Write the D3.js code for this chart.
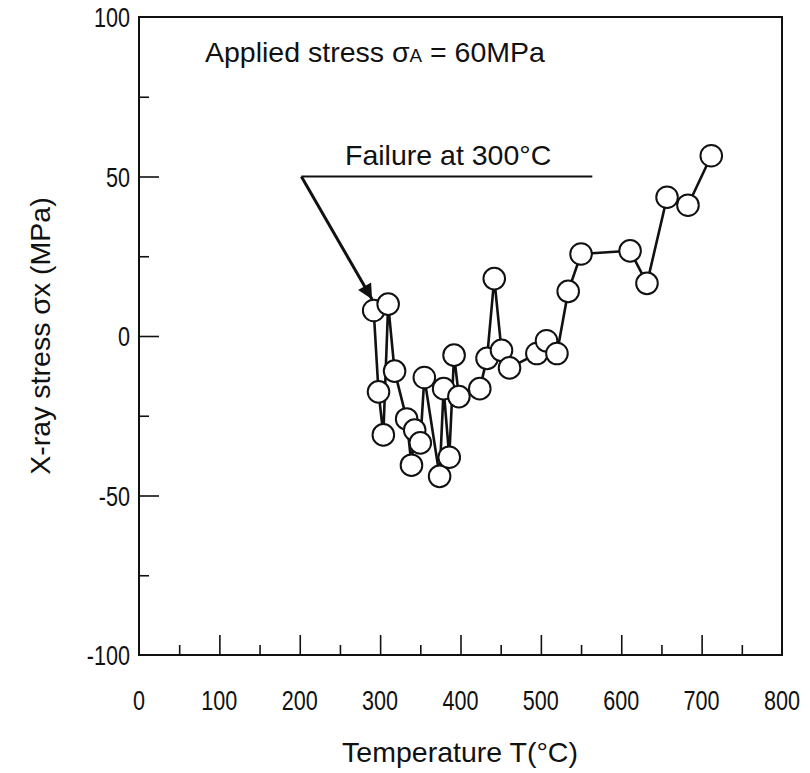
<!DOCTYPE html>
<html>
<head>
<meta charset="utf-8">
<script src="https://cdn.jsdelivr.net/npm/d3@7"></script>
<style>
  html, body { margin: 0; padding: 0; background: #fff; }
  svg { display: block; }
  text { font-family: "Liberation Sans", Arial, Helvetica, sans-serif; fill: #111; }
</style>
</head>
<body>
<svg id="chart" width="810" height="773"></svg>
<script>
// ---- data ----
const temperature = [292, 298, 304, 310, 318, 333, 339, 343, 350, 355, 374, 379, 386, 392, 398,
                     424, 433, 442, 451, 461, 495, 507, 520, 534, 550, 611, 632, 657, 683, 712];
const stress      = [8, -17.5, -31, 10, -11, -26, -40.5, -29.5, -33.5, -13, -44, -16.5, -38, -6, -19,
                     -16.5, -7, 18, -4.5, -10, -5.5, -1.5, -5.5, 14, 25.7, 26.7, 16.5, 43.5, 41, 56.5];
const xTickValues = [0, 100, 200, 300, 400, 500, 600, 700, 800];
const xMinorTicks = [50, 150, 250, 350, 450, 550, 650, 750];
const yTickValues = [-100, -50, 0, 50, 100];
const yMinorTicks = [-75, -25, 25, 75];
const xTitle = "Temperature T(°C)";
const yTitle = "X-ray stress σx (MPa)";
const appliedText = "Applied stress σ";
const failureText = "Failure at 300°C";

// ---- layout ----
const svg = d3.select("#chart");
const L = 139, R = 782, T = 17, B = 655;
const x = d3.scaleLinear().domain([0, 800]).range([L, R]);
const y = d3.scaleLinear().domain([-100, 100]).range([B, T]);
const fsTick = 27, sx = 0.8, fs = 28.5;

// frame
svg.append("rect").attr("x", L).attr("y", T).attr("width", R - L).attr("height", B - T)
  .attr("fill", "none").attr("stroke", "#111").attr("stroke-width", 2);

// bottom axis (ticks inward)
const gx = svg.append("g").attr("transform", `translate(0,${B})`)
  .call(d3.axisBottom(x).tickValues(xTickValues.slice(1, -1)).tickSize(-20).tickFormat(""));
const gxm = svg.append("g").attr("transform", `translate(0,${B})`)
  .call(d3.axisBottom(x).tickValues(xMinorTicks).tickSize(-10).tickFormat(""));
// left axis
const gy = svg.append("g").attr("transform", `translate(${L},0)`)
  .call(d3.axisLeft(y).tickValues(yTickValues.slice(1, -1)).tickSize(-20).tickFormat(""));
const gym = svg.append("g").attr("transform", `translate(${L},0)`)
  .call(d3.axisLeft(y).tickValues(yMinorTicks).tickSize(-10).tickFormat(""));
[gx, gxm, gy, gym].forEach(g => {
  g.select(".domain").remove();
  g.selectAll(".tick line").attr("stroke", "#111").attr("stroke-width", 1.6);
});

// tick labels (tall, narrow digits)
svg.append("g").selectAll("text").data(xTickValues).join("text")
  .attr("transform", d => `translate(${x(d)},710) scale(${sx},1)`)
  .attr("text-anchor", "middle").attr("font-size", fsTick).text(d => d);
svg.append("g").selectAll("text").data(yTickValues).join("text")
  .attr("transform", d => `translate(130,${y(d) + 10}) scale(${sx},1)`)
  .attr("text-anchor", "end").attr("font-size", fsTick).text(d => d);

// axis titles
svg.append("text").attr("x", 460).attr("y", 762).attr("text-anchor", "middle")
  .attr("font-size", fs).text(xTitle);
svg.append("text").attr("transform", `translate(50,${(T + B) / 2}) rotate(-90)`)
  .attr("text-anchor", "middle").attr("font-size", fs).text(yTitle);

// annotations
const at = svg.append("text").attr("x", 205).attr("y", 62).attr("font-size", fs);
at.append("tspan").text(appliedText);
at.append("tspan").attr("font-size", fs * 0.66).text("A");
at.append("tspan").text(" = 60MPa");

svg.append("text").attr("x", 345).attr("y", 165).attr("font-size", fs).text(failureText);

const lx0 = x(202), ly0 = y(50), lx1 = x(564);
svg.append("line").attr("x1", lx0).attr("y1", ly0).attr("x2", lx1).attr("y2", ly0)
  .attr("stroke", "#111").attr("stroke-width", 2);
// arrow
const tipX = x(290), tipY = y(11.5);
svg.append("defs").append("marker").attr("id", "arr")
  .attr("viewBox", "0 0 10 10").attr("refX", 10).attr("refY", 5)
  .attr("markerWidth", 9).attr("markerHeight", 5).attr("orient", "auto")
  .attr("markerUnits", "strokeWidth")
  .append("path").attr("d", "M0,0 L10,5 L0,10 Z").attr("fill", "#111");
svg.append("line").attr("x1", lx0).attr("y1", ly0).attr("x2", tipX).attr("y2", tipY)
  .attr("stroke", "#111").attr("stroke-width", 3).attr("marker-end", "url(#arr)");

// data line
const pts = temperature.map((t, i) => [t, stress[i]]);
svg.append("path").datum(pts)
  .attr("d", d3.line().x(d => x(d[0])).y(d => y(d[1])))
  .attr("fill", "none").attr("stroke", "#111").attr("stroke-width", 2.6)
  .attr("stroke-linejoin", "round");
svg.append("g").selectAll("circle").data(pts).join("circle")
  .attr("cx", d => x(d[0])).attr("cy", d => y(d[1])).attr("r", 10.8)
  .attr("fill", "#fff").attr("stroke", "#111").attr("stroke-width", 2);
</script>
</body>
</html>
